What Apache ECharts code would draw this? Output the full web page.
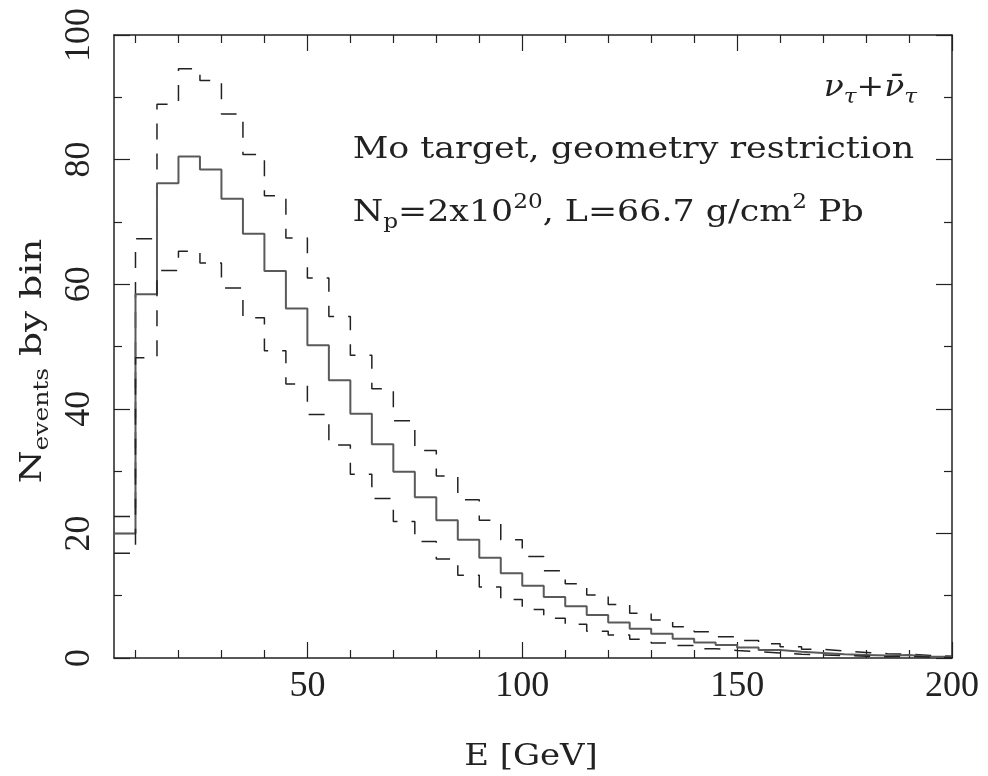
<!DOCTYPE html>
<html>
<head>
<meta charset="utf-8">
<script src="https://cdn.jsdelivr.net/npm/echarts@6/dist/echarts.min.js"></script>
<style>
html,body{margin:0;padding:0;background:#fff;}
#chart{width:988px;height:776px;}
</style>
</head>
<body>
<div id="chart"></div>
<script>
// Bin lower edges (GeV), bin width 5 GeV
var binStart = [5,10,15,20,25,30,35,40,45,50,55,60,65,70,75,80,85,90,95,100,105,110,115,120,125,130,135,140,145,150,155,160,165,170,175,180,185,190,195];
var binEnd = 200;
// central (solid)
var central = [20.0,58.4,76.2,80.5,78.4,73.7,68.1,62.1,56.1,50.2,44.6,39.2,34.3,29.9,25.8,22.1,19.0,16.1,13.6,11.6,9.8,8.3,6.9,5.7,4.7,3.9,3.1,2.5,2.1,1.7,1.3,1.0,0.8,0.6,0.5,0.4,0.5,0.2,0.2];
// upper (dashed)
var upper = [22.7,67.3,88.9,94.6,92.7,87.3,80.8,74.2,67.4,61.0,54.8,48.6,43.2,38.1,33.3,29.2,25.4,22.1,19.0,16.3,14.0,11.9,10.1,8.6,7.2,6.1,5.0,4.2,3.4,2.8,2.3,1.8,1.4,1.1,0.9,0.7,0.6,0.4,0.3];
// lower (dashed)
var lower = [16.8,48.2,62.2,65.3,63.4,59.4,54.6,49.3,44.0,39.1,34.2,29.5,25.6,21.9,18.7,15.9,13.3,11.4,9.4,7.8,6.4,5.4,4.3,3.7,3.0,2.4,2.0,1.5,1.2,1.0,0.8,0.6,0.5,0.4,0.3,0.2,0.3,0.1,0.1];

var xMajorTicks = [50,100,150,200];
var xMinorTicks = [10,20,30,40,60,70,80,90,110,120,130,140,160,170,180,190];

function histData(vals){
  var d = [];
  for (var i=0;i<binStart.length;i++) d.push([binStart[i], vals[i]]);
  d.push([binEnd, vals[vals.length-1]]);
  return d;
}

var FONT_T = 'DejaVu Serif';
var FONT_L = 'Liberation Serif';
var INK = '#222';

var chart = echarts.init(document.getElementById('chart'), null, {renderer:'canvas'});

function xAx(pos, major){
  return {
    type:'value', min:5, max:200, position:pos,
    axisLine:{show:major, onZero:false, lineStyle:{color:INK, width:1.5}},
    axisTick:{show:true, inside:true, length: major?16:8, customValues: major?xMajorTicks:xMinorTicks, lineStyle:{color:INK, width:1.2}},
    axisLabel:{show: major && pos==='bottom', customValues:xMajorTicks, margin:11, fontFamily:FONT_L, fontSize:36, color:INK},
    splitLine:{show:false}
  };
}
function yAx(pos){
  return {
    type:'value', min:0, max:100, interval:20, position:pos,
    axisLine:{show:true, onZero:false, lineStyle:{color:INK, width:1.5}},
    axisTick:{show:true, inside:true, length:16, lineStyle:{color:INK, width:1.2}},
    minorTick:{show:true, splitNumber:2, length:8, lineStyle:{color:INK, width:1.2}},
    axisLabel:{show: pos==='left', rotate:90, margin:16, fontFamily:FONT_L, fontSize:36, color:INK},
    splitLine:{show:false}
  };
}

var mainRich = {
  n:{fontFamily:FONT_T, fontSize:30, lineHeight:40, fill:INK, color:INK},
  s:{fontFamily:FONT_T, fontSize:20, lineHeight:4, verticalAlign:'bottom', fill:INK, color:INK},
  u:{fontFamily:FONT_T, fontSize:20, lineHeight:14, verticalAlign:'top', fill:INK, color:INK},
  gi:{fontFamily:FONT_T, fontSize:30, lineHeight:40, fontStyle:'italic', fill:INK, color:INK},
  gs:{fontFamily:FONT_T, fontSize:21, lineHeight:10, verticalAlign:'bottom', fontStyle:'italic', fill:INK, color:INK}
};

var option = {
  animation:false,
  backgroundColor:'#fff',
  grid:{left:114, right:36, top:35, bottom:118, containLabel:false, outerBoundsMode:'none'},
  xAxis:[xAx('bottom',true), xAx('bottom',false), xAx('top',true), xAx('top',false)],
  yAxis:[yAx('left'), yAx('right')],
  series:[
    {type:'line', step:'end', symbol:'none', xAxisIndex:0, yAxisIndex:0, data:histData(upper),
     lineStyle:{color:INK, width:1.5, type:[16,14]}},
    {type:'line', step:'end', symbol:'none', xAxisIndex:0, yAxisIndex:0, data:histData(central),
     lineStyle:{color:'#5a5a5a', width:2}},
    {type:'line', step:'end', symbol:'none', xAxisIndex:0, yAxisIndex:0, data:histData(lower),
     lineStyle:{color:INK, width:1.5, type:[16,14]}}
  ],
  graphic:[
    {type:'text', x:917, y:88, scaleX:1.1, style:{text:'{gi|\u03BD}{gs|\u03C4}{n|+}{gi|\u03BD\u0304}{gs|\u03C4}', rich:mainRich, textAlign:'right', textVerticalAlign:'middle', fill:INK}},
    {type:'text', x:352.7, y:150.3, scaleX:1.16, style:{text:'{n|Mo target, geometry restriction}', rich:mainRich, textAlign:'left', textVerticalAlign:'middle', fill:INK}},
    {type:'text', x:352.7, y:213, scaleX:1.16, style:{text:'{n|N}{s|p}{n|=2x10}{u|20}{n|, L=66.7 g/cm}{u|2}{n| Pb}', rich:mainRich, textAlign:'left', textVerticalAlign:'middle', fill:INK}},
    {type:'text', x:33, y:361, rotation:Math.PI/2, scaleX:1.25, style:{text:'{n|N}{s|events}{n| by bin}', rich:mainRich, textAlign:'center', textVerticalAlign:'middle', fill:INK}},
    {type:'text', x:531, y:757, scaleX:1.13, style:{text:'{n|E [GeV]}', rich:mainRich, textAlign:'center', textVerticalAlign:'middle', fill:INK}}
  ]
};
chart.setOption(option);
</script>
</body>
</html>
